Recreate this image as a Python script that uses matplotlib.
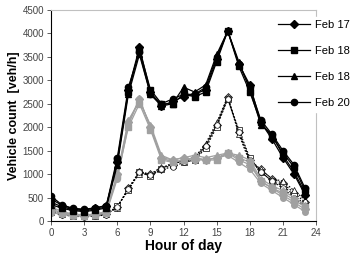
import matplotlib.pyplot as plt

plt.rcParams['font.family'] = ['Liberation Sans', 'DejaVu Sans']

hours = list(range(24))

# black group (legend)
feb17 = [470, 330, 260, 240, 270, 330, 1250, 2800, 3700, 2750, 2450, 2550, 2650, 2700, 2800, 3450, 4050, 3350, 2900, 2100, 1750, 1350, 1000, 560]
feb18a = [400, 300, 240, 220, 250, 300, 1300, 2750, 3650, 2800, 2500, 2500, 2700, 2650, 2750, 3400, 4050, 3300, 2750, 2100, 1800, 1450, 1150, 650]
feb18b = [350, 270, 220, 200, 230, 280, 1200, 2700, 3550, 2700, 2450, 2500, 2850, 2750, 2900, 3550, 4050, 3400, 2800, 2050, 1850, 1400, 1050, 600]
feb20 = [530, 340, 270, 250, 280, 330, 1350, 2850, 3600, 2700, 2500, 2600, 2700, 2700, 2850, 3500, 4050, 3350, 2850, 2150, 1850, 1500, 1200, 700]

# gray group
gray1 = [300, 200, 150, 130, 150, 200, 1000, 2100, 2600, 2000, 1350, 1300, 1350, 1300, 1300, 1350, 1450, 1300, 1200, 850, 700, 550, 400, 250]
gray2 = [250, 180, 130, 120, 140, 190, 950, 2000, 2500, 1950, 1300, 1250, 1300, 1350, 1300, 1300, 1450, 1350, 1250, 850, 700, 600, 450, 300]
gray3 = [220, 160, 120, 110, 130, 180, 1000, 2150, 2550, 2050, 1400, 1300, 1350, 1400, 1350, 1400, 1450, 1400, 1300, 900, 750, 650, 500, 350]
gray4 = [180, 140, 110, 100, 120, 170, 900, 2050, 2600, 2000, 1350, 1250, 1300, 1350, 1300, 1350, 1400, 1250, 1100, 800, 650, 500, 350, 200]

# white / dashed group
white1 = [250, 150, 120, 110, 120, 150, 300, 700, 1050, 1000, 1100, 1200, 1300, 1350, 1600, 2050, 2650, 1900, 1300, 1100, 900, 800, 600, 400]
white2 = [200, 140, 110, 100, 110, 140, 320, 650, 1050, 950, 1100, 1250, 1250, 1300, 1550, 2000, 2600, 1950, 1350, 1050, 850, 750, 550, 350]
white3 = [230, 160, 130, 110, 130, 160, 280, 700, 1000, 1000, 1150, 1200, 1300, 1350, 1650, 2100, 2650, 1850, 1250, 1100, 900, 850, 650, 450]
white4 = [180, 130, 100, 90, 100, 130, 300, 680, 1050, 980, 1100, 1150, 1250, 1300, 1600, 2050, 2600, 1900, 1300, 1050, 850, 700, 500, 300]

labels = ['Feb 17', 'Feb 18', 'Feb 18', 'Feb 20']
markers = ['D', 's', '^', 'o']

fig = plt.figure(figsize=(3.5, 2.54), dpi=100)
ax = fig.add_axes([0.146, 0.130, 0.757, 0.831])

for data, m in zip([white1, white2, white3, white4], markers):
    ax.plot(hours, data, color='black', linestyle=(0, (1.5, 1.5)), linewidth=0.8,
            marker=m, markersize=4, markerfacecolor='white', markeredgecolor='black',
            markeredgewidth=0.5)

for data, m in zip([gray1, gray2, gray3, gray4], markers):
    ax.plot(hours, data, color='#a0a0a0', linewidth=0.9,
            marker=m, markersize=4, markerfacecolor='#a0a0a0', markeredgecolor='#a0a0a0')

handles = []
for data, m, lab in zip([feb17, feb18a, feb18b, feb20], markers, labels):
    h, = ax.plot(hours, data, color='black', linewidth=0.9,
                 marker=m, markersize=4.5, markerfacecolor='black', markeredgecolor='black',
                 label=lab)
    handles.append(h)

ax.set_xlim(0, 24)
ax.set_ylim(0, 4500)
ax.set_xticks(range(0, 25, 3))
ax.set_yticks(range(0, 4501, 500))
ax.tick_params(labelsize=7, length=3, width=0.6, colors='#444444', direction='out', pad=2)
for s in ['top', 'right']:
    ax.spines[s].set_color('#c0c0c0')
for s in ['left', 'bottom']:
    ax.spines[s].set_color('black')
    ax.spines[s].set_linewidth(0.8)

ax.set_xlabel('Hour of day', fontsize=10, fontweight='bold', labelpad=1)
ax.set_ylabel('Vehicle count  [veh/h]', fontsize=9, fontweight='bold', labelpad=2)

leg = fig.legend(handles=handles, loc='upper left', bbox_to_anchor=(0.785, 0.935),
                 frameon=True, fontsize=8, handlelength=2.9, labelspacing=1.45,
                 handletextpad=0.4, borderpad=0.3, borderaxespad=0)
leg.get_frame().set_edgecolor('white')
leg.get_frame().set_facecolor('white')
leg.get_frame().set_alpha(1)

fig.savefig('out.png', dpi=100)
